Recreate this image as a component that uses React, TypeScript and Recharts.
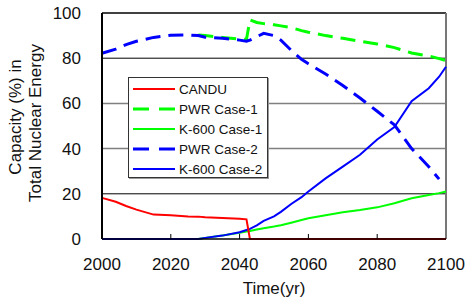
import { LineChart, Line, XAxis, YAxis, ReferenceLine, Legend, Label } from "recharts";

const years = [2000, 2004, 2007, 2010, 2015, 2020, 2025, 2028, 2030, 2035, 2040, 2042, 2043, 2045, 2047, 2050, 2052, 2055, 2058, 2060, 2065, 2070, 2075, 2080, 2085, 2090, 2095, 2098, 2100];

const candu = [18.2, 16.5, 14.6, 13, 10.8, 10.5, 10, 9.9, 9.6, 9.3, 9, 8.7, 0, 0, 0, 0, 0, 0, 0, 0, 0, 0, 0, 0, 0, 0, 0, 0, 0];
const pwrCase1 = [null, null, null, null, null, null, null, 90.3, 90, 89.2, 88.5, 88.3, 97, 95.8, 95.3, 94.8, 94.3, 93.5, 92.2, 91.5, 90, 88.8, 87.5, 86.3, 84.7, 82.3, 81, 79.8, 79];
const k600Case1 = [0, 0, 0, 0, 0, 0, 0, 0, 0.5, 1.5, 2.8, 3.3, 3.5, 4.2, 4.8, 5.5, 6.1, 7.2, 8.4, 9.2, 10.5, 11.8, 12.8, 14, 15.8, 18, 19.5, 20.3, 21];
const pwrCase2 = [82.2, 84, 86, 87.5, 89.2, 90.2, 90.3, 90, 89.3, 88.8, 88, 87.5, 88, 89.5, 91, 90, 88, 83.5, 79.5, 77.5, 73, 67.9, 62.4, 56.5, 50.5, 40, 32, 26.5, null];
const k600Case2 = [0, 0, 0, 0, 0, 0, 0, 0, 0.5, 1.5, 3, 4, 4.5, 6, 8, 10, 12, 15.5, 18.5, 21, 26.8, 32, 37.3, 44, 49.5, 61, 66.7, 71.8, 76.2];

const xTicks = [2000, 2020, 2040, 2060, 2080, 2100];
const yTicks = [0, 20, 40, 60, 80, 100];

const data = years.map((year, i) => ({
  year,
  candu: candu[i],
  pwr1: pwrCase1[i],
  k1: k600Case1[i],
  pwr2: pwrCase2[i],
  k2: k600Case2[i],
}));

const series = [
  { key: "candu", name: "CANDU", color: "#ff0000", dashed: false },
  { key: "pwr1", name: "PWR Case-1", color: "#00ff00", dashed: true },
  { key: "k1", name: "K-600 Case-1", color: "#00ff00", dashed: false },
  { key: "pwr2", name: "PWR Case-2", color: "#0000ff", dashed: true },
  { key: "k2", name: "K-600 Case-2", color: "#0000ff", dashed: false },
];

const font = "'Liberation Sans', Arial, sans-serif";

const XTick = (props: any) => {
  const { x, y, payload } = props;
  const inner = payload.value > 2000 && payload.value < 2100;
  return (
    <g>
      {inner && <line x1={x} x2={x} y1={y - 5} y2={y} stroke="#000" strokeWidth={1} />}
      <text x={x} y={y + 31} textAnchor="middle" fontSize={17} fontFamily={font} fill="#111">
        {payload.value}
      </text>
    </g>
  );
};

const LegendBox = () => (
  <div style={{ width: 140, height: 101, boxSizing: "border-box", border: "1px solid #333", boxShadow: "1px 1px 0 #999", background: "#fff" }}>
    <svg width={138} height={99}>
      {series.map((s, i) => {
        const y = 11 + i * 20;
        return (
          <g key={s.key}>
            <line x1={4} x2={46} y1={y} y2={y} stroke={s.color} strokeWidth={s.dashed ? 3 : 2} strokeDasharray={s.dashed ? "16 10" : undefined} />
            <text x={50} y={y + 5} fontSize={13.5} fontFamily={font} fill="#111">
              {s.name}
            </text>
          </g>
        );
      })}
    </svg>
  </div>
);

export default function App() {
  return (
    <div style={{ position: "absolute", left: 0, top: 0, background: "#fff" }}>
      <LineChart width={465} height={298} data={data} margin={{ top: 13, right: 19, left: 0, bottom: 0 }}>
        <XAxis
          dataKey="year"
          type="number"
          domain={[2000, 2100]}
          ticks={xTicks}
          height={59}
          tickSize={0}
          tickMargin={0}
          tick={<XTick />}
          axisLine={{ stroke: "#000", strokeWidth: 1.5 }}
          tickLine={false}
        >
          <Label value="Time(yr)" position="insideBottom" offset={4} fontSize={17} fontFamily={font} fill="#111" />
        </XAxis>
        <YAxis
          domain={[0, 100]}
          ticks={yTicks}
          width={102}
          tickSize={0}
          tickMargin={21}
          tickLine={false}
          tick={{ fontSize: 17, fontFamily: font, fill: "#111" }}
          axisLine={{ stroke: "#000", strokeWidth: 2 }}
        >
          <Label
            content={() => (
              <g fontSize={17} fontFamily={font} fill="#111">
                <text x={21} y={117} transform="rotate(-90 21 117)" textAnchor="middle">
                  Capacity (%) in
                </text>
                <text x={41} y={123} transform="rotate(-90 41 123)" textAnchor="middle">
                  Total Nuclear Energy
                </text>
              </g>
            )}
          />
        </YAxis>
        <ReferenceLine y={20} stroke="#000" strokeWidth={1} />
        <ReferenceLine y={40} stroke="#808080" strokeWidth={1.5} />
        <ReferenceLine y={60} stroke="#808080" strokeWidth={1.5} />
        <ReferenceLine y={80} stroke="#000" strokeWidth={1} />
        <ReferenceLine y={100} stroke="#000" strokeWidth={1.5} />
        <ReferenceLine x={2100} stroke="#777" strokeWidth={2} />
        <Legend
          layout="vertical"
          align="center"
          verticalAlign="middle"
          content={<LegendBox />}
          wrapperStyle={{ left: 128, top: 77, width: 140, height: 101 }}
        />
        <Line dataKey="pwr1" stroke="#00ff00" strokeWidth={3} strokeDasharray="15 8" dot={false} isAnimationActive={false} />
        <Line dataKey="k1" stroke="#00ff00" strokeWidth={2} dot={false} isAnimationActive={false} />
        <Line dataKey="pwr2" stroke="#0000ff" strokeWidth={3} strokeDasharray="15 8" dot={false} isAnimationActive={false} />
        <Line dataKey="k2" stroke="#0000ff" strokeWidth={2} dot={false} isAnimationActive={false} />
        <Line dataKey="candu" stroke="#ff0000" strokeWidth={2} dot={false} isAnimationActive={false} />
      </LineChart>
    </div>
  );
}
